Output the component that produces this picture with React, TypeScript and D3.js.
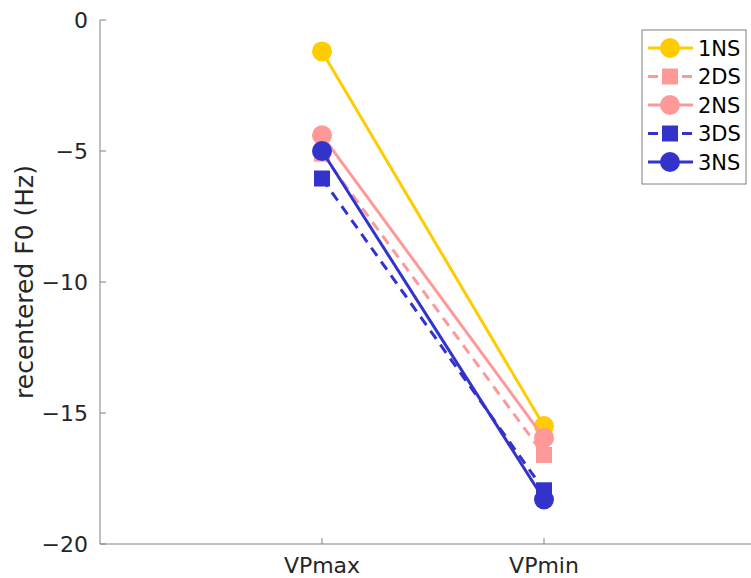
import React from "react";
import * as d3 from "d3";

const categories = ["VPmax", "VPmin"];
const seriesNames = ["1NS", "2DS", "2NS", "3DS", "3NS"];
const seriesColors = ["#FFCC00", "#FF9999", "#FF9999", "#3333CC", "#3333CC"];
const seriesDashed = [false, true, false, true, false];
const seriesMarkers = ["circle", "square", "circle", "square", "circle"];
const values1NS = [-1.2, -15.5];
const values2DS = [-5.1, -16.6];
const values2NS = [-4.4, -15.95];
const values3DS = [-6.05, -17.95];
const values3NS = [-5.0, -18.3];
const yTicks = [0, -5, -10, -15, -20];

const allValues = [values1NS, values2DS, values2NS, values3DS, values3NS];

const W = 751;
const H = 578;
const font = "'DejaVu Sans', sans-serif";
const axisColor = "#808080";
const textColor = "#262626";

export default function App() {
  const x = d3.scaleLinear().domain([0, 3]).range([100, 766]);
  const y = d3.scaleLinear().domain([-20, 0]).range([544, 20]);
  const line = d3
    .line<number>()
    .x((_, i) => x(i + 1))
    .y((d) => y(d));

  const marker = (kind: string, cx: number, cy: number, color: string, key: string) =>
    kind === "circle" ? (
      <circle key={key} cx={cx} cy={cy} r={10} fill={color} />
    ) : (
      <rect key={key} x={cx - 8} y={cy - 8} width={16} height={16} fill={color} />
    );

  const legendX = 642;
  const legendY = 30;
  const rowH = 28.5;

  return (
    <svg width={W} height={H} style={{ position: "absolute", left: 0, top: 0, background: "#fff" }}>
      {/* axes */}
      <line x1={100} x2={W} y1={544} y2={544} stroke={axisColor} strokeWidth={1} />
      <line x1={100} x2={100} y1={20} y2={544} stroke={axisColor} strokeWidth={1} />
      {yTicks.map((t) => (
        <g key={t}>
          <line x1={100} x2={106} y1={y(t)} y2={y(t)} stroke={axisColor} />
          <text
            x={88}
            y={y(t)}
            dy="0.36em"
            textAnchor="end"
            fontFamily={font}
            fontSize={22}
            fill={textColor}
          >
            {t < 0 ? "\u2212" + Math.abs(t) : t}
          </text>
        </g>
      ))}
      {categories.map((c, i) => (
        <g key={c}>
          <line x1={x(i + 1)} x2={x(i + 1)} y1={544} y2={538} stroke={axisColor} />
          <text
            x={x(i + 1)}
            y={573}
            textAnchor="middle"
            fontFamily={font}
            fontSize={22}
            fill={textColor}
          >
            {c}
          </text>
        </g>
      ))}
      <text
        transform={`translate(33, ${y(-10)}) rotate(-90)`}
        textAnchor="middle"
        fontFamily={font}
        fontSize={25}
        fill={textColor}
      >
        recentered F0 (Hz)
      </text>

      {/* series */}
      {allValues.map((vals, s) => (
        <g key={seriesNames[s]}>
          <path
            d={line(vals) || ""}
            fill="none"
            stroke={seriesColors[s]}
            strokeWidth={3}
            strokeDasharray={seriesDashed[s] ? "10 7" : undefined}
          />
          {vals.map((v, i) =>
            marker(seriesMarkers[s], x(i + 1), y(v), seriesColors[s], `${s}-${i}`)
          )}
        </g>
      ))}

      {/* legend */}
      <rect
        x={legendX}
        y={legendY}
        width={104}
        height={154}
        fill="#fff"
        stroke={axisColor}
        strokeWidth={1}
      />
      {seriesNames.map((name, s) => {
        const cy = legendY + 18 + s * rowH;
        return (
          <g key={name}>
            <line
              x1={648}
              x2={693}
              y1={cy}
              y2={cy}
              stroke={seriesColors[s]}
              strokeWidth={3}
              strokeDasharray={seriesDashed[s] ? "10 7" : undefined}
            />
            {marker(seriesMarkers[s], 670, cy, seriesColors[s], name + "m")}
            <text
              x={698}
              y={cy}
              dy="0.36em"
              fontFamily={font}
              fontSize={21}
              fill="#000"
            >
              {name}
            </text>
          </g>
        );
      })}
    </svg>
  );
}
